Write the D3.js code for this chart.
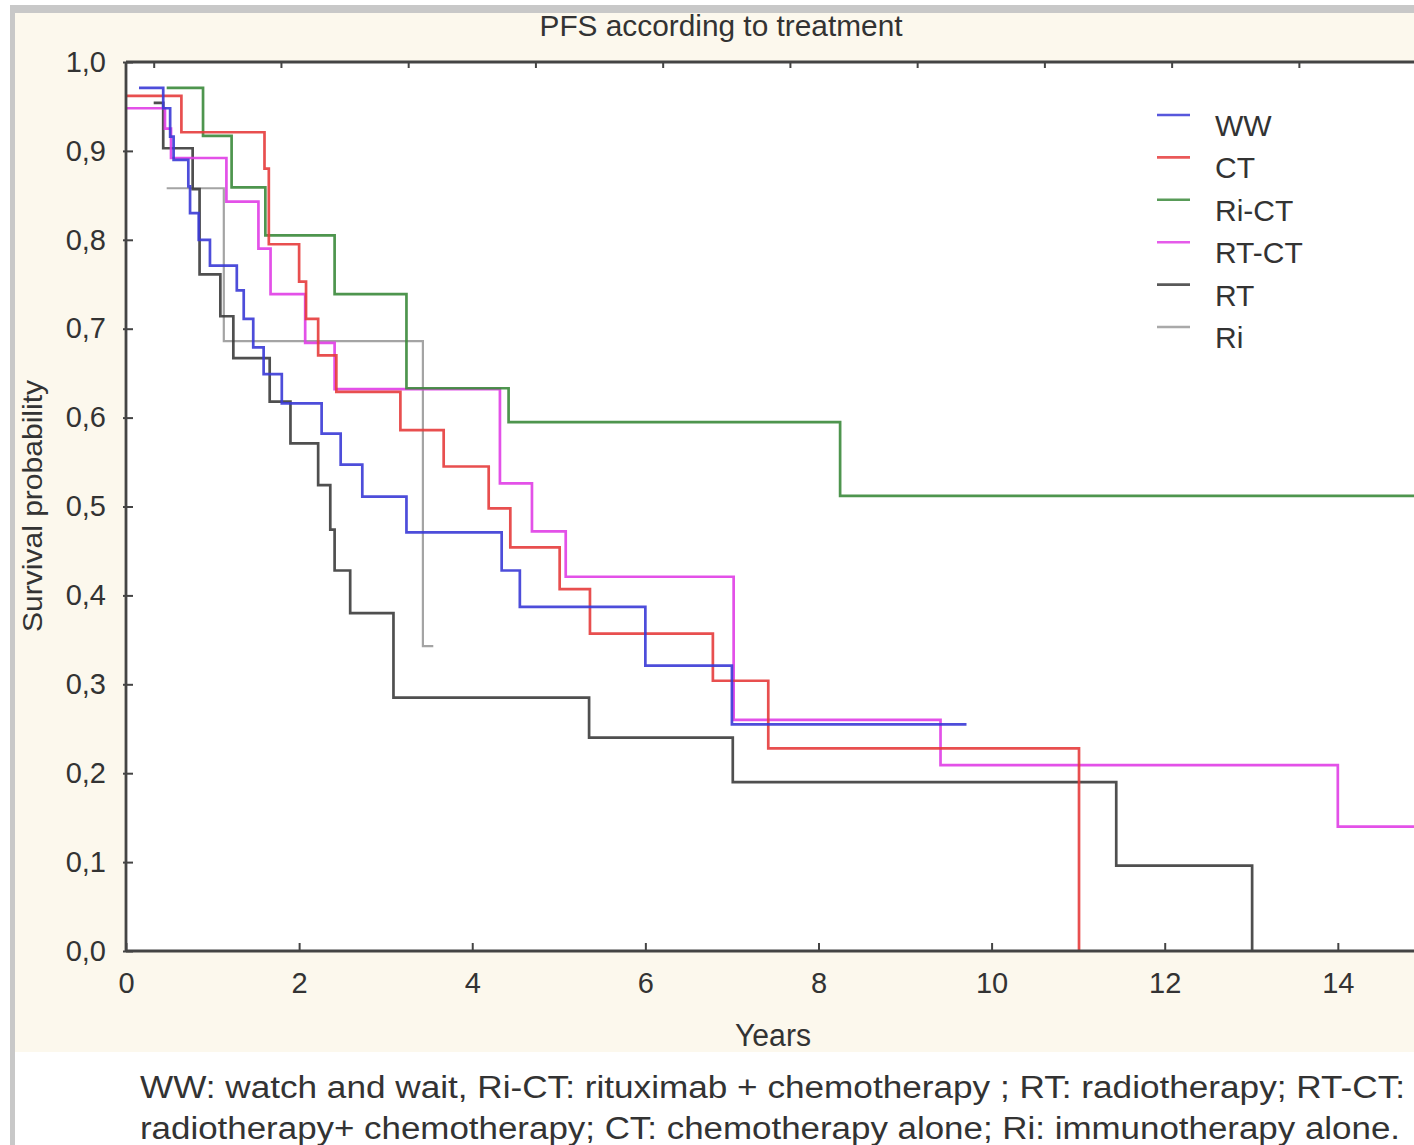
<!DOCTYPE html>
<html><head><meta charset="utf-8">
<script src="https://cdn.jsdelivr.net/npm/d3@7"></script>
<style>body{margin:0;background:#fff}svg{display:block}text{font-family:"Liberation Sans",Arial,sans-serif;fill:#333}</style>
</head><body>
<script>
// ---- data ----
const seriesNames = ["WW","CT","Ri-CT","RT-CT","RT","Ri"];
const wwTimes = [0.15,0.43,0.51,0.55,0.72,0.74,0.84,0.97,1.28,1.36,1.47,1.59,1.80,2.26,2.48,2.73,3.24,4.34,4.55,6.00,7.00,9.71];
const wwSurv  = [0.971,0.948,0.916,0.890,0.860,0.830,0.800,0.771,0.743,0.711,0.679,0.649,0.616,0.582,0.547,0.511,0.471,0.428,0.387,0.321,0.255,0.255];
const ctTimes = [0,0.64,1.60,1.65,2.00,2.08,2.22,2.43,3.17,3.67,4.19,4.44,5.01,5.36,6.78,7.42,11.01];
const ctSurv  = [0.962,0.921,0.880,0.795,0.753,0.711,0.670,0.629,0.586,0.545,0.498,0.454,0.407,0.357,0.304,0.228,0.0];
const rictTimes = [0.47,0.89,1.22,1.61,2.41,3.24,4.42,8.25,14.88];
const rictSurv  = [0.971,0.917,0.859,0.805,0.739,0.633,0.595,0.512,0.512];
const rtctTimes = [0,0.45,0.52,1.16,1.53,1.67,2.07,2.41,4.32,4.69,5.08,7.02,9.41,14.0,14.88];
const rtctSurv  = [0.948,0.925,0.892,0.843,0.790,0.739,0.684,0.632,0.526,0.472,0.421,0.260,0.209,0.140,0.140];
const rtTimes = [0.32,0.43,0.77,0.85,1.09,1.24,1.66,1.90,2.22,2.36,2.41,2.59,3.09,5.35,7.01,11.44,13.01];
const rtSurv  = [0.954,0.903,0.857,0.761,0.714,0.667,0.618,0.571,0.524,0.474,0.428,0.380,0.285,0.240,0.190,0.096,0.0];
const riTimes = [0.47,1.13,3.43,3.55];
const riSurv  = [0.858,0.686,0.343,0.343];
const xTicks = [0,2,4,6,8,10,12,14];
const xTopTicks = [0.32,1.79,3.26,4.73,6.20,7.67,9.14,10.61,12.08,13.55];
const yTicks = [0,0.1,0.2,0.3,0.4,0.5,0.6,0.7,0.8,0.9,1.0];
const xMax = 14.88;
const titleText = "PFS according to treatment";
const xTitle = "Years";
const yTitle = "Survival probability";
const caption1 = "WW: watch and wait,  Ri-CT: rituximab + chemotherapy ; RT: radiotherapy; RT-CT:";
const caption2 = "radiotherapy+ chemotherapy; CT: chemotherapy alone; Ri: immunotherapy alone.";

// ---- styles ----
const colors = {"WW":"#3a3ad6","CT":"#e63c3c","Ri-CT":"#3b8a3b","RT-CT":"#e03ee6","RT":"#3c3c3c","Ri":"#9a9a9a"};
const widths = {"WW":2.7,"CT":2.7,"Ri-CT":2.7,"RT-CT":2.7,"RT":2.7,"Ri":2.2};
const seriesData = {
  "WW": [wwTimes, wwSurv], "CT": [ctTimes, ctSurv], "Ri-CT": [rictTimes, rictSurv],
  "RT-CT": [rtctTimes, rtctSurv], "RT": [rtTimes, rtSurv], "Ri": [riTimes, riSurv]
};
const drawOrder = ["Ri","RT","RT-CT","Ri-CT","CT","WW"];

(function(){
const W = 1414, H = 1145;
const L = 126, R = 1414, T = 62, B = 951;
const svg = d3.select("body").append("svg").attr("width", W).attr("height", H);

svg.append("rect").attr("width", W).attr("height", H).attr("fill", "#fff");
svg.append("rect").attr("x", 10).attr("y", 5).attr("width", W - 10).attr("height", H - 5).attr("fill", "#c8c8c8");
svg.append("rect").attr("x", 15).attr("y", 13).attr("width", W - 15).attr("height", 1052 - 13).attr("fill", "#fcf8ed");
svg.append("rect").attr("x", 15).attr("y", 1052).attr("width", W - 15).attr("height", H - 1052).attr("fill", "#fff");
svg.append("rect").attr("x", L).attr("y", T).attr("width", R - L).attr("height", B - T).attr("fill", "#fff");

const x = d3.scaleLinear().domain([0, xMax]).range([L, R]);
const y = d3.scaleLinear().domain([0, 1]).range([B, T]);

const line = d3.line().x(d => x(d[0])).y(d => y(d[1])).curve(d3.curveStepAfter);
const g = svg.append("g");
drawOrder.forEach(name => {
  const [ts, ss] = seriesData[name];
  const pts = ts.map((t, i) => [t, ss[i]]);
  g.append("path").datum(pts).attr("d", line)
    .attr("fill", "none").attr("stroke", colors[name]).attr("stroke-width", widths[name])
    .attr("stroke-linejoin", "miter").attr("stroke-opacity", 0.9);
});

const axCol = "#444";
const axB = svg.append("g").attr("transform", `translate(0,${B})`)
  .call(d3.axisBottom(x).tickValues(xTicks).tickSize(-8).tickPadding(21).tickFormat(d3.format("d")));
const axL = svg.append("g").attr("transform", `translate(${L},0)`)
  .call(d3.axisLeft(y).tickValues(yTicks).tickSize(-7).tickPadding(20).tickFormat(d => d3.format(".1f")(d).replace(".", ",")));
const axT = svg.append("g").attr("transform", `translate(0,${T})`)
  .call(d3.axisTop(x).tickValues(xTopTicks).tickSize(-6).tickFormat(""));
[axB, axL, axT].forEach(a => {
  a.select(".domain").remove();
  a.selectAll(".tick line").attr("stroke", axCol).attr("stroke-width", 2);
  a.selectAll(".tick text").attr("fill", "#333").style("font-size", "29px").style("font-family", "'Liberation Sans', Arial, sans-serif");
});
axL.selectAll(".tick line").attr("x1", -3);
svg.append("line").attr("x1", L).attr("x2", R).attr("y1", T).attr("y2", T).attr("stroke", axCol).attr("stroke-width", 2.8);
svg.append("line").attr("x1", L).attr("x2", R).attr("y1", B).attr("y2", B).attr("stroke", axCol).attr("stroke-width", 2.8);
svg.append("line").attr("x1", L).attr("x2", L).attr("y1", T).attr("y2", B).attr("stroke", axCol).attr("stroke-width", 2.8);

svg.append("text").attr("x", 721).attr("y", 36).attr("text-anchor", "middle")
  .attr("textLength", 363).attr("lengthAdjust", "spacingAndGlyphs").style("font-size", "29px").text(titleText);
svg.append("text").attr("x", 773).attr("y", 1046).attr("text-anchor", "middle")
  .attr("textLength", 76).attr("lengthAdjust", "spacingAndGlyphs").style("font-size", "31px").text(xTitle);
svg.append("text").attr("transform", "translate(42,506) rotate(-90)").attr("text-anchor", "middle")
  .attr("textLength", 252).attr("lengthAdjust", "spacingAndGlyphs").style("font-size", "28px").text(yTitle);

const lg = svg.append("g");
seriesNames.forEach((name, i) => {
  const cy = 125 + i * 42.4;
  lg.append("line").attr("x1", 1157).attr("x2", 1190).attr("y1", cy - 10).attr("y2", cy - 10)
    .attr("stroke", colors[name]).attr("stroke-width", 2.6).attr("stroke-opacity", 0.85);
  lg.append("text").attr("x", 1215).attr("y", cy + 11).style("font-size", "30px").attr("fill", "#333").text(name);
});

svg.append("text").attr("x", 140).attr("y", 1098).attr("textLength", 1265).attr("lengthAdjust", "spacingAndGlyphs")
  .style("font-size", "31px").attr("fill", "#1a1a1a").text(caption1);
svg.append("text").attr("x", 140).attr("y", 1139).attr("textLength", 1260).attr("lengthAdjust", "spacingAndGlyphs")
  .style("font-size", "31px").attr("fill", "#1a1a1a").text(caption2);
})();
</script>
</body></html>
